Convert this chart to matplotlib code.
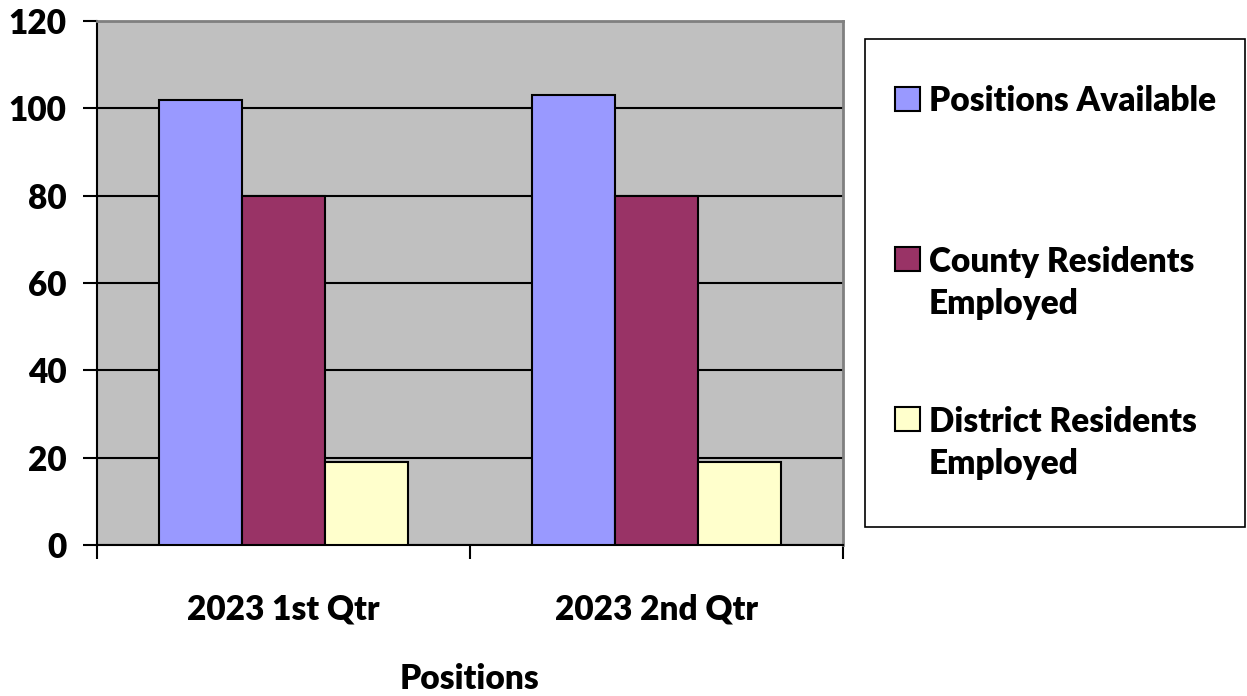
import numpy as np
import matplotlib.pyplot as plt
from matplotlib.patches import Rectangle

categories = ['2023 1st Qtr', '2023 2nd Qtr']
series_names = ['Positions Available', 'County Residents\nEmployed', 'District Residents\nEmployed']
positions_available = [102, 103]
county_employed = [80, 80]
district_employed = [19, 19]
colors = ['#9999FF', '#993366', '#FFFFCC']

plt.rcParams['font.family'] = ['Lato', 'DejaVu Sans']
plt.rcParams['font.weight'] = 'heavy'
plt.rcParams['axes.labelweight'] = 'heavy'
FS = 24

W, H = 1247, 696
fig = plt.figure(figsize=(W / 100, H / 100), dpi=100)
ax = fig.add_axes([97 / W, 1 - 545 / H, (843 - 97) / W, (545 - 21) / H])
ax.set_facecolor('#C0C0C0')

x = np.arange(len(categories))
width = 1 / 4.5
for i, (vals, col) in enumerate(zip([positions_available, county_employed, district_employed], colors)):
    ax.bar(x + (i - 1) * width, vals, width, color=col, edgecolor='black',
           linewidth=1.5, zorder=3)

ax.set_xlim(-0.5, 1.5)
ax.set_ylim(0, 120)
ax.set_yticks(range(0, 121, 20))
ax.yaxis.grid(True, color='black', linewidth=1.5, zorder=1)
ax.set_axisbelow(True)

ax.set_xticks([-0.5, 0.5, 1.5])
ax.set_xticklabels([])
ax.set_xticks(x, minor=True)
ax.set_xticklabels(categories, minor=True)
ax.tick_params(axis='x', which='minor', length=0, pad=35, labelsize=FS)
ax.tick_params(axis='x', which='major', length=10, width=1.5, direction='out')
ax.tick_params(axis='y', length=10, width=1.5, direction='out', labelsize=FS, pad=12)

ax.spines['left'].set_linewidth(1.5)
ax.spines['bottom'].set_linewidth(1.5)
for s in ['top', 'right']:
    ax.spines[s].set_color('#808080')
    ax.spines[s].set_linewidth(2)

ax.set_xlabel('Positions', fontsize=FS, labelpad=27)

# legend box, drawn by hand so the swatch lines up with the first text line
fig.patches.append(Rectangle((865 / W, 1 - 527 / H), (1245 - 865) / W, (527 - 39) / H,
                             transform=fig.transFigure, facecolor='white',
                             edgecolor='black', linewidth=1.2))
swatch_bottoms = [111, 271, 431]
for name, col, yb in zip(series_names, colors, swatch_bottoms):
    fig.patches.append(Rectangle((895 / W, 1 - yb / H), 25 / W, 24 / H,
                                 transform=fig.transFigure, facecolor=col,
                                 edgecolor='black', linewidth=1.5))
    last_base = yb + 43 * name.count('\n')
    fig.text(929 / W, 1 - last_base / H, name, fontsize=FS, ha='left', va='baseline',
             linespacing=1.4)

fig.savefig('out.png', dpi=100)
